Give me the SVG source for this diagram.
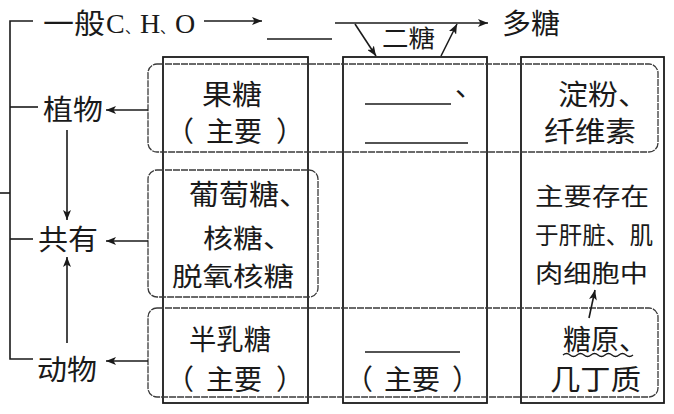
<svg xmlns="http://www.w3.org/2000/svg" width="674" height="414" viewBox="0 0 674 414">
<defs>
<marker id="ah" viewBox="0 0 10 8" refX="10" refY="4" markerWidth="10" markerHeight="8" markerUnits="userSpaceOnUse" orient="auto">
<path d="M0,0 L10,4 L0,8 L2.5,4 Z" fill="#1a1a1a"/>
</marker>
<style>
.t{font-family:"Noto Sans CJK SC","Noto Sans",sans-serif;font-size:28px;fill:#1a1a1a}
.s{font-family:"Liberation Serif","Noto Sans CJK SC",serif;font-size:28px;fill:#1a1a1a}
.c{font-family:"Noto Sans CJK SC",sans-serif;font-size:15px}
.k{font-family:"Noto Sans CJK SC",sans-serif;font-size:24px;fill:#1a1a1a}
.ln{stroke:#1a1a1a;stroke-width:1.6;fill:none}
.col{stroke:#1a1a1a;stroke-width:1.8;fill:none}
.row{stroke:#3a3a3a;stroke-width:1.3;fill:none;stroke-dasharray:7 1}
.ar{stroke:#1a1a1a;stroke-width:1.6;fill:none;marker-end:url(#ah)}
</style>
</defs>
<rect width="674" height="414" fill="#fff"/>

<g id="columns">
<rect class="col" x="163" y="57" width="145" height="346"/>
<rect class="col" x="343" y="57" width="144" height="346"/>
<rect class="col" x="521" y="57" width="143" height="346"/>
</g>

<g id="rows">
<rect class="row" x="148" y="64" width="510" height="88" rx="9"/>
<rect class="row" x="148" y="170" width="170" height="127" rx="9"/>
<rect class="row" x="148" y="308" width="510" height="89" rx="9"/>
</g>

<g id="connectors">
<path class="ln" d="M33,21 H10 V359 H33"/>
<path class="ln" d="M10,107 H38"/>
<path class="ln" d="M10,239 H33"/>
<path class="ln" d="M0,193 H10"/>
<path class="ar" d="M204,21 H262"/>
<path class="ar" d="M335,23 H488"/>
<path class="ar" d="M355,24 L376,56"/>
<path class="ar" d="M441,56 L457,24"/>
<path class="ar" d="M148,110 H106"/>
<path class="ar" d="M148,241 H106"/>
<path class="ar" d="M148,361 H106"/>
<path class="ar" d="M67,130 V220"/>
<path class="ar" d="M67,343 V257"/>
<path class="ar" d="M589,318 L595,290"/>
</g>

<g id="n-general">
<text class="t" x="43" y="34" textLength="62" lengthAdjust="spacingAndGlyphs">一般</text>
<text class="s" y="33"><tspan x="106">C</tspan><tspan class="c" x="125">、</tspan><tspan x="140">H</tspan><tspan class="c" x="160">、</tspan><tspan x="175">O</tspan></text>
</g>
<g id="n-blank-mono">
<path class="ln" d="M267,39 H332"/>
</g>
<g id="n-disaccharide">
<text class="t" x="382" y="47" style="font-size:24px" textLength="53" lengthAdjust="spacingAndGlyphs">二糖</text>
</g>
<g id="n-poly">
<text class="t" x="502" y="34" textLength="58" lengthAdjust="spacingAndGlyphs">多糖</text>
</g>

<g id="n-plant">
<text class="t" x="43" y="120" textLength="60" lengthAdjust="spacingAndGlyphs">植物</text>
</g>
<g id="n-common">
<text class="t" x="38" y="250" textLength="60" lengthAdjust="spacingAndGlyphs">共有</text>
</g>
<g id="n-animal">
<text class="t" x="37" y="380" textLength="60" lengthAdjust="spacingAndGlyphs">动物</text>
</g>

<g id="n-fructose">
<text class="t" x="202" y="105" textLength="60" lengthAdjust="spacingAndGlyphs">果糖</text>
<text class="t" y="142"><tspan x="166">（</tspan><tspan x="206">主要</tspan><tspan x="276">）</tspan></text>
</g>
<g id="n-plant-di">
<path class="ln" d="M365,104 H451"/>
<text class="t" x="455" y="96">、</text>
<path class="ln" d="M365,143 H468"/>
</g>
<g id="n-plant-poly">
<text class="t" x="558" y="105" textLength="90" lengthAdjust="spacingAndGlyphs">淀粉、</text>
<text class="t" x="544" y="142" textLength="92" lengthAdjust="spacingAndGlyphs">纤维素</text>
</g>

<g id="n-common-mono">
<text class="t" x="189" y="205" textLength="120" lengthAdjust="spacingAndGlyphs">葡萄糖、</text>
<text class="t" x="203" y="248" style="font-size:26px" textLength="90" lengthAdjust="spacingAndGlyphs">核糖、</text>
<text class="t" x="172" y="286" style="font-size:26px" textLength="122" lengthAdjust="spacingAndGlyphs">脱氧核糖</text>
</g>
<g id="n-glycogen-note">
<text class="k" x="535" y="205" textLength="114" lengthAdjust="spacingAndGlyphs">主要存在</text>
<text class="k" x="535" y="244" textLength="118" lengthAdjust="spacingAndGlyphs">于肝脏、肌</text>
<text class="k" x="535" y="282" textLength="113" lengthAdjust="spacingAndGlyphs">肉细胞中</text>
</g>

<g id="n-galactose">
<text class="t" x="189" y="350" textLength="82" lengthAdjust="spacingAndGlyphs">半乳糖</text>
<text class="t" y="390"><tspan x="166">（</tspan><tspan x="206">主要</tspan><tspan x="276">）</tspan></text>
</g>
<g id="n-animal-di">
<path class="ln" d="M365,352 H460"/>
<text class="t" y="390"><tspan x="345">（</tspan><tspan x="384">主要</tspan><tspan x="452">）</tspan></text>
</g>
<g id="n-animal-poly">
<text class="t" x="563" y="350" textLength="84" lengthAdjust="spacingAndGlyphs">糖原、</text>
<path class="ln" style="stroke-width:1.3" d="M563,355 q3.5,-3 7,0 t7,0 t7,0 t7,0 t7,0 t7,0 t7,0 t7,0 t7,0 t7,0"/>
<text class="t" x="550" y="390" textLength="91" lengthAdjust="spacingAndGlyphs">几丁质</text>
</g>
</svg>
